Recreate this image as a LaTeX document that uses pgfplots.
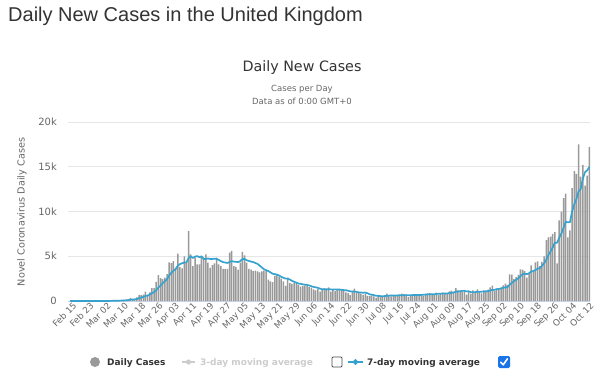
\documentclass[border=0pt]{standalone}
\usepackage{fontspec}
\setmainfont{DejaVu Sans}
\newfontfamily\titlefont{Liberation Sans}
\usepackage{pgfplots}
\usepackage{pgfplotstable}
\pgfplotsset{compat=1.18}
\definecolor{txt}{HTML}{333333}
\definecolor{sub}{HTML}{666666}
\definecolor{gridc}{HTML}{E6E6E6}
\definecolor{barc}{HTML}{999999}
\definecolor{avgc}{HTML}{37A2CE}
\definecolor{axisc}{HTML}{CCD6EB}
\definecolor{hidc}{HTML}{CCCCCC}
\definecolor{chkc}{HTML}{1A73E8}

% Daily cases and 7-day moving average, Feb 15 - Oct 13, 2020 (one row per day)
\pgfplotstableread[row sep=\\]{
cases avg\\
0 0\\ 0 0\\ 0 0\\ 0 0\\ 0 0\\ 0 0\\ 0 0\\ 0 0\\ 0 0\\ 4 1\\ 0 1\\ 0 1\\ 2 1\\ 5 2\\ 3 2\\
12 4\\ 4 4\\ 11 5\\ 34 10\\ 29 14\\ 48 20\\ 45 26\\ 69 34\\ 43 40\\ 63 47\\ 136 62\\ 134 77\\ 208 100\\ 342 142\\ 251 168\\ 152 184\\ 407 233\\ 676 310\\ 643 383\\ 714 455\\ 1035 554\\ 665 613\\ 967 730\\ 1427 875\\ 1452 986\\ 2129 1198\\ 2885 1509\\ 2546 1724\\ 2433 1977\\ 2619 2213\\ 3009 2439\\
4324 2849\\ 4244 3151\\ 4450 3375\\ 3735 3545\\ 5300 3954\\ 3802 4123\\ 3634 4213\\ 5000 4309\\ 4300 4317\\ 7800 4796\\ 5200 5005\\ 3900 4805\\ 4850 4955\\ 4100 5021\\ 4100 4893\\ 5000 4993\\ 4850 4700\\ 5200 4700\\ 4300 4750\\ 3700 4700\\ 4000 4700\\ 4200 4720\\ 4850 4700\\ 4100 4600\\ 3900 4450\\ 3600 4350\\ 3600 4300\\ 3600 4250\\ 5400 4350\\ 5600 4450\\
3900 4400\\ 3800 4380\\ 3500 4350\\ 4300 4450\\ 5500 4700\\ 5100 4700\\ 4300 4550\\ 3600 4480\\ 3500 4400\\ 3350 4350\\ 3400 4250\\ 3300 4150\\ 3200 3950\\ 3300 3750\\ 3400 3550\\ 3400 3450\\ 2400 3350\\ 2200 3200\\ 2100 3050\\ 2800 3000\\ 3000 2950\\ 2700 2850\\ 2500 2700\\ 2200 2600\\ 1700 2500\\ 2600 2500\\ 2000 2400\\ 1900 2250\\ 2000 2150\\ 2100 2050\\ 1800 1950\\
1600 1920\\ 1650 1864\\ 1750 1829\\ 1700 1800\\ 1550 1736\\ 1500 1650\\ 1300 1579\\ 1200 1521\\ 1350 1479\\ 1050 1379\\ 1250 1314\\ 1450 1300\\ 1425 1289\\ 1514 1320\\ 1056 1299\\ 1279 1289\\ 1115 1298\\ 1218 1294\\ 1346 1279\\ 1295 1260\\ 1221 1219\\ 958 1205\\ 874 1147\\ 653 1081\\ 1118 1066\\ 1380 1071\\ 890 1013\\ 901 968\\ 815 947\\ 689 921\\
829 946\\ 576 869\\ 544 749\\ 624 711\\ 516 656\\ 352 590\\ 581 575\\ 630 546\\ 512 537\\ 642 551\\ 820 579\\ 650 598\\ 530 624\\ 598 626\\ 538 613\\ 642 631\\ 687 638\\ 827 639\\ 756 654\\ 580 661\\ 445 639\\ 560 642\\ 769 661\\ 768 672\\ 767 664\\ 747 662\\ 685 677\\ 581 697\\ 763 726\\ 846 737\\ 880 753\\
771 753\\ 744 753\\ 938 789\\ 670 802\\ 892 820\\ 950 835\\ 871 834\\ 758 832\\ 1062 877\\ 1148 907\\ 1009 956\\ 1441 1034\\ 1200 1070\\ 1012 1090\\ 1040 1130\\ 1077 1132\\ 726 1072\\ 1089 1084\\ 812 994\\ 1182 991\\ 1033 994\\ 1288 1030\\ 1041 1024\\ 853 1043\\ 1184 1056\\ 1048 1090\\ 1276 1103\\ 1522 1173\\ 1715 1234\\ 1108 1244\\ 1406 1323\\
1295 1339\\ 1508 1404\\ 1735 1470\\ 1940 1530\\ 1813 1544\\ 2988 1812\\ 2948 2032\\ 2460 2199\\ 2659 2363\\ 2919 2532\\ 3539 2761\\ 3497 3001\\ 3330 3050\\ 2621 3004\\ 3105 3096\\ 3991 3286\\ 3395 3354\\ 4322 3466\\ 4422 3598\\ 3899 3679\\ 4368 3929\\ 5000 4200\\ 6800 4601\\ 7100 5130\\ 7200 5541\\ 7500 5981\\ 7700 6524\\ 4200 6500\\ 9000 7071\\ 10000 7529\\
11500 8157\\ 12000 8843\\ 7100 8786\\ 7900 8814\\ 12600 10014\\ 14500 10800\\ 14200 11400\\ 17500 12257\\ 13900 12529\\ 15200 13686\\ 12900 14400\\ 14000 14600\\ 17200 14986\\
}\data

\begin{document}
\begin{tikzpicture}
\path[use as bounding box] (0bp,0bp) rectangle (600bp,-380bp);

% titles
\node[anchor=base west, inner sep=0pt, text=txt, font=\titlefont\fontsize{20bp}{24bp}\selectfont] at (8bp,-21bp) {Daily New Cases in the United Kingdom};
\node[anchor=base, inner sep=0pt, text=txt, font=\fontsize{14.3bp}{17bp}\selectfont] at (302bp,-71bp) {Daily New Cases};
\node[anchor=base, inner sep=0pt, text=sub, font=\fontsize{8.5bp}{10bp}\selectfont] at (302bp,-91bp) {Cases per Day};
\node[anchor=base, inner sep=0pt, text=sub, font=\fontsize{8.5bp}{10bp}\selectfont] at (302bp,-104bp) {Data as of 0:00 GMT+0};
\node[rotate=90, inner sep=0pt, text=sub, font=\fontsize{9.7bp}{11bp}\selectfont] at (22bp,-212bp) {Novel Coronavirus Daily Cases};

\begin{axis}[
  at={(68bp,-301bp)}, anchor=south west,
  scale only axis, width=522bp, height=179bp,
  xmin=-0.95, xmax=241.3, ymin=0, ymax=20000,
  axis x line*=bottom, axis y line*=left,
  x axis line style={draw=axisc, line width=1bp, -},
  y axis line style={draw=none},
  ymajorgrids, grid style={draw=gridc, line width=1bp},
  major tick length=0pt,
  scaled y ticks=false,
  ytick={0,5000,10000,15000,20000},
  yticklabels={0,5k,10k,15k,20k},
  yticklabel style={text=sub, font=\fontsize{10bp}{12bp}\selectfont, inner sep=0pt, anchor=east, xshift=-11bp},
  xtick={0,8,...,240},
  xticklabels={Feb 15,Feb 23,Mar 02,Mar 10,Mar 18,Mar 26,Apr 03,Apr 11,Apr 19,Apr 27,May 05,May 13,May 21,May 29,Jun 06,Jun 14,Jun 22,Jun 30,Jul 08,Jul 16,Jul 24,Aug 01,Aug 09,Aug 17,Aug 25,Sep 02,Sep 10,Sep 18,Sep 26,Oct 04,Oct 12},
  xticklabel style={text=sub, font=\fontsize{8.8bp}{10bp}\selectfont, rotate=45, anchor=east, inner sep=0pt, xshift=1bp, yshift=-6bp},
  clip=false,
]
\addplot[ybar, bar width=1.5bp, bar shift=0pt, fill=barc, draw=none] table[x expr=\coordindex, y=cases]{\data};
\addplot[avgc, line width=1.7bp, no markers, line join=round] table[x expr=\coordindex, y=avg]{\data};
\end{axis}

% legend
\fill[barc] (95bp,-362bp) circle (5bp);
\node[anchor=base west, inner sep=0pt, text=txt, font=\bfseries\fontsize{9bp}{11bp}\selectfont] at (107bp,-365.5bp) {Daily Cases};
\draw[hidc, line width=2bp] (182bp,-362bp) -- (195bp,-362bp);
\fill[hidc] (188.5bp,-362bp) circle (2.6bp);
\node[anchor=base west, inner sep=0pt, text=hidc, font=\bfseries\fontsize{9bp}{11bp}\selectfont] at (200bp,-365.5bp) {3-day moving average};
\draw[draw=black!70, fill=white, line width=0.8bp, rounded corners=1bp] (332bp,-357bp) rectangle (342bp,-367bp);
\draw[avgc, line width=2bp] (348bp,-362bp) -- (363bp,-362bp);
\fill[avgc] (355.5bp,-358.8bp) -- (358.7bp,-362bp) -- (355.5bp,-365.2bp) -- (352.3bp,-362bp) -- cycle;
\node[anchor=base west, inner sep=0pt, text=txt, font=\bfseries\fontsize{9bp}{11bp}\selectfont] at (367bp,-365.5bp) {7-day moving average};
\fill[chkc, rounded corners=1.5bp] (498bp,-356bp) rectangle (510bp,-368bp);
\draw[white, line width=1.6bp, line cap=round, line join=round] (500.8bp,-362.3bp) -- (503.2bp,-364.8bp) -- (507.4bp,-358.8bp);
\end{tikzpicture}
\end{document}
